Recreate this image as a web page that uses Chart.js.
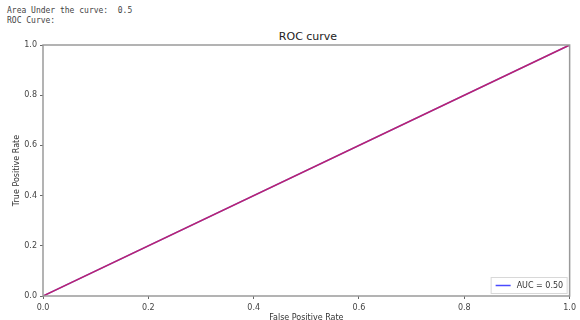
<!DOCTYPE html>
<html>
<head>
<meta charset="utf-8">
<script src="https://cdn.jsdelivr.net/npm/chart.js@4.4.0/dist/chart.umd.min.js"></script>
<style>
  body { margin: 0; background: #fff; }
  #wrap { position: relative; width: 580px; height: 320px; }
  #out { position: absolute; left: 7px; top: 6px; font: 8px "DejaVu Sans Mono", monospace; color: #444; line-height: 10px; white-space: pre; }
  #title { position: absolute; left: 43px; width: 530px; top: 30px; text-align: center; font: 11px "DejaVu Sans", sans-serif; color: #222; }
  canvas { position: absolute; left: 0; top: 0; }
</style>
</head>
<body>
<div id="wrap">
  <div id="out">Area Under the curve:  0.5
ROC Curve:</div>
  <div id="title">ROC curve</div>
  <canvas id="roc" width="580" height="320"></canvas>
</div>
<script>
// datos de la curva ROC
const fpr = [0.0, 1.0];
const tpr = [0.0, 1.0];
const diagX = [0.0, 1.0];
const diagY = [0.0, 1.0];
const ticks = [0.0, 0.2, 0.4, 0.6, 0.8, 1.0];
const aucLabel = 'AUC = 0.50';

const font = { family: 'DejaVu Sans', size: 8 };

// marco y leyenda dentro del area del grafico
const framePlugin = {
  id: 'frame',
  afterDraw(chart) {
    const { ctx, chartArea: a } = chart;
    ctx.save();
    ctx.strokeStyle = '#9a9a9a';
    ctx.lineWidth = 1.5;
    ctx.strokeRect(a.left, a.top, a.right - a.left, a.bottom - a.top);

    // leyenda abajo a la derecha
    const ds = chart.data.datasets[0];
    const w = 76, h = 16;
    const x = a.right - w - 3, y = a.bottom - h - 3;
    ctx.fillStyle = 'rgba(255,255,255,0.85)';
    ctx.strokeStyle = '#d8d8d8';
    ctx.lineWidth = 1;
    ctx.fillRect(x, y, w, h);
    ctx.strokeRect(x + 0.5, y + 0.5, w, h);
    ctx.strokeStyle = ds.borderColor;
    ctx.lineWidth = 1.5;
    ctx.beginPath();
    ctx.moveTo(x + 5, y + h / 2 + 0.5);
    ctx.lineTo(x + 20, y + h / 2 + 0.5);
    ctx.stroke();
    ctx.fillStyle = '#333';
    ctx.font = '8px "DejaVu Sans"';
    ctx.textBaseline = 'middle';
    ctx.fillText(ds.label, x + 26, y + h / 2 + 1);
    ctx.restore();
  }
};

new Chart(document.getElementById('roc'), {
  type: 'scatter',
  data: {
    datasets: [
      {
        label: aucLabel,
        data: fpr.map((v, i) => ({ x: v, y: tpr[i] })),
        showLine: true,
        borderColor: '#4a4aff',
        borderWidth: 1.5,
        pointRadius: 0,
        order: 1
      },
      {
        label: 'diag',
        data: diagX.map((v, i) => ({ x: v, y: diagY[i] })),
        showLine: true,
        borderColor: 'rgba(225,20,60,0.75)',
        borderWidth: 1.5,
        pointRadius: 0,
        order: 0
      }
    ]
  },
  plugins: [framePlugin],
  options: {
    responsive: false,
    animation: false,
    layout: { padding: { top: 45, right: 7, bottom: 0, left: 0 } },
    plugins: { legend: { display: false }, tooltip: { enabled: false } },
    scales: {
      x: {
        type: 'linear', min: 0, max: 1,
        afterFit(s) { s.height = 24; },
        afterBuildTicks(s) { s.ticks = ticks.map(v => ({ value: v })); },
        grid: { drawOnChartArea: false, tickLength: 3, color: '#666' },
        border: { display: false },
        ticks: { font, color: '#444', padding: 4, maxRotation: 0, callback: v => v.toFixed(1) },
        title: { display: true, text: 'False Positive Rate', font, color: '#333', padding: { top: 1, bottom: -3 } }
      },
      y: {
        type: 'linear', min: 0, max: 1,
        afterFit(s) { s.width = 43; },
        afterBuildTicks(s) { s.ticks = ticks.map(v => ({ value: v })); },
        grid: { drawOnChartArea: false, tickLength: 3, color: '#666' },
        border: { display: false },
        ticks: { font, color: '#444', padding: 3, callback: v => v.toFixed(1) },
        title: { display: true, text: 'True Positive Rate', font, color: '#333', padding: { top: 12, bottom: 0 } }
      }
    }
  }
});
</script>
</body>
</html>
